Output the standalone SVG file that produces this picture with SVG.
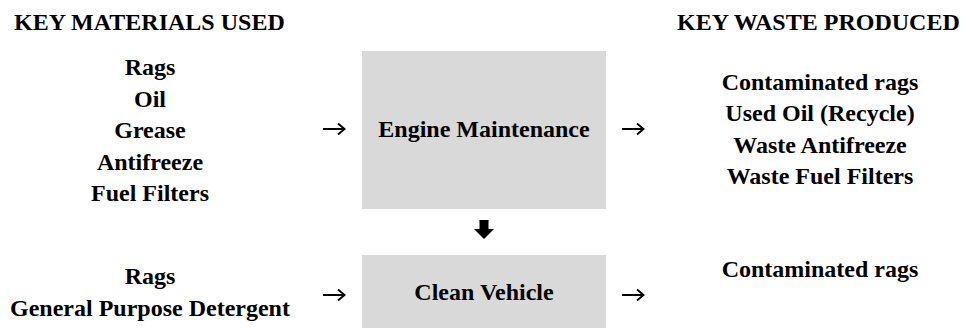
<svg xmlns="http://www.w3.org/2000/svg" width="967" height="328" viewBox="0 0 967 328">
<style>
  text { font-family: "Liberation Serif", "Times New Roman", serif; font-weight: bold; font-size: 24px; fill: #000; }
  .c { text-anchor: middle; }
  .box { fill: #d9d9d9; stroke: none; }
  .arr { fill: none; stroke: #000; stroke-width: 1.9; stroke-linecap: butt; stroke-linejoin: miter; }
</style>
<rect width="967" height="328" fill="#fff"/>
<g id="header-materials"><text x="14" y="30">KEY MATERIALS USED</text></g>
<g id="header-waste"><text x="677" y="30">KEY WASTE PRODUCED</text></g>
<g id="materials-engine">
  <text class="c" x="150" y="75">Rags</text>
  <text class="c" x="150" y="106.5">Oil</text>
  <text class="c" x="150" y="138">Grease</text>
  <text class="c" x="150" y="169.5">Antifreeze</text>
  <text class="c" x="150" y="201">Fuel Filters</text>
</g>
<g id="engine-maintenance">
  <rect class="box" x="362" y="51" width="244" height="158"/>
  <text class="c" x="484" y="137">Engine Maintenance</text>
</g>
<g id="waste-engine">
  <text class="c" x="820" y="90">Contaminated rags</text>
  <text class="c" x="820" y="121.3">Used Oil (Recycle)</text>
  <text class="c" x="820" y="152.6">Waste Antifreeze</text>
  <text class="c" x="820" y="184">Waste Fuel Filters</text>
</g>
<g id="materials-clean">
  <text class="c" x="150" y="284">Rags</text>
  <text class="c" x="150" y="316">General Purpose Detergent</text>
</g>
<g id="clean-vehicle">
  <rect class="box" x="362" y="255" width="244" height="80"/>
  <text class="c" x="484" y="300">Clean Vehicle</text>
</g>
<g id="waste-clean">
  <text class="c" x="820" y="277">Contaminated rags</text>
</g>
<g id="connectors">
  <path class="arr" d="M323 129 H344 M338 123.5 L344.5 129 L338 134.5"/>
  <path class="arr" d="M622 129 H643 M637 123.5 L643.5 129 L637 134.5"/>
  <path class="arr" d="M323 295 H344 M338 289.5 L344.5 295 L338 300.5"/>
  <path class="arr" d="M622 295 H643 M637 289.5 L643.5 295 L637 300.5"/>
  <polygon fill="#000" points="479.5,220 488.5,220 488.5,229 494,229 484,239 474,229 479.5,229"/>
</g>
</svg>
